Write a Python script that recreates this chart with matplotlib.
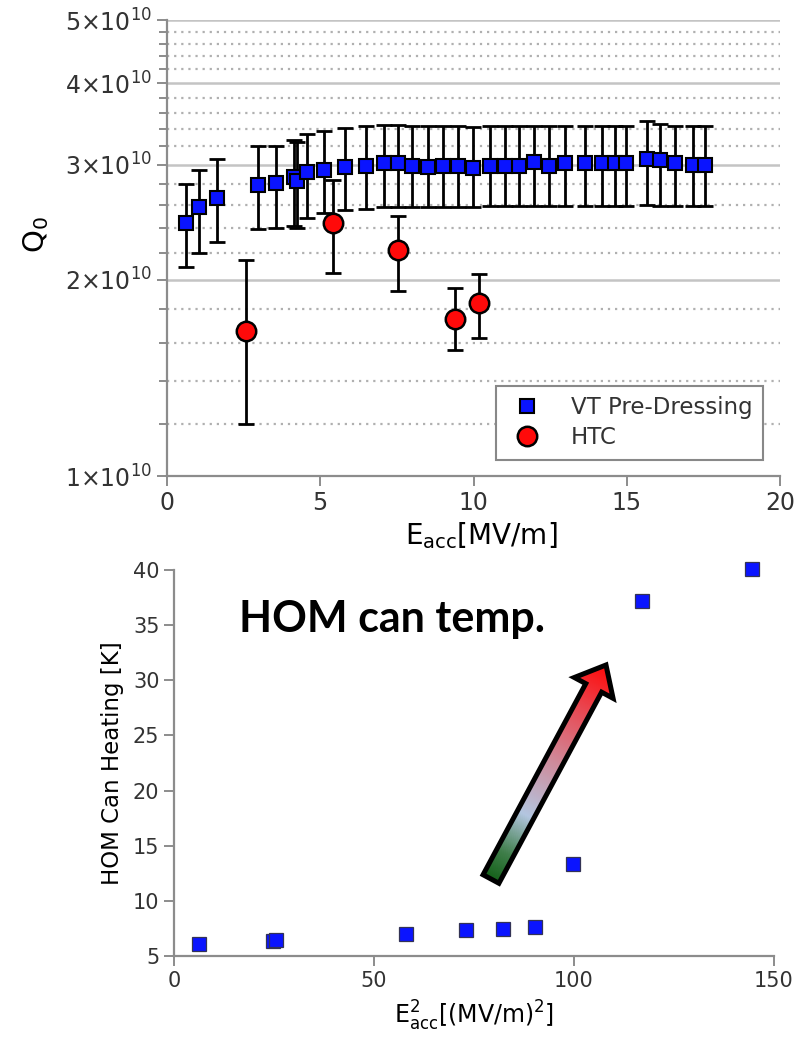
import matplotlib
matplotlib.use("Agg")
import matplotlib.pyplot as plt
import numpy as np
from matplotlib.colors import LinearSegmentedColormap
from matplotlib.lines import Line2D
from matplotlib.patches import Polygon
from matplotlib.ticker import FixedLocator, FixedFormatter, NullFormatter

# top panel: Q0 vs Eacc (Q in units of 1e10)
vt_e = [0.62, 1.04, 1.63, 2.97, 3.56, 4.14, 4.24, 4.57, 5.12, 5.81, 6.49,
        7.08, 7.54, 7.99, 8.52, 9.00, 9.49, 9.98, 10.54, 11.03, 11.48, 11.97,
        12.46, 12.99, 13.64, 14.19, 14.62, 14.98, 15.66, 16.08, 16.57, 17.16, 17.55]
vt_q = [2.44, 2.58, 2.67, 2.79, 2.81, 2.87, 2.83, 2.92, 2.94, 2.98, 2.99,
        3.015, 3.015, 2.99, 2.98, 2.99, 2.99, 2.97, 2.99, 2.99, 2.99, 3.025,
        2.99, 3.015, 3.02, 3.02, 3.02, 3.02, 3.06, 3.05, 3.02, 3.00, 3.00]
vt_lo = [2.09, 2.20, 2.28, 2.39, 2.40, 2.42, 2.40, 2.49, 2.53, 2.56, 2.57,
         2.58, 2.58, 2.58, 2.58, 2.58, 2.58, 2.58, 2.59, 2.59, 2.59, 2.59,
         2.59, 2.59, 2.59, 2.59, 2.59, 2.59, 2.60, 2.59, 2.59, 2.59, 2.59]
vt_hi = [2.80, 2.94, 3.06, 3.21, 3.20, 3.27, 3.25, 3.34, 3.38, 3.41, 3.44,
         3.45, 3.45, 3.44, 3.44, 3.44, 3.44, 3.43, 3.44, 3.44, 3.44, 3.44,
         3.44, 3.44, 3.44, 3.44, 3.44, 3.44, 3.50, 3.46, 3.44, 3.44, 3.44]

htc_e = [2.58, 5.42, 7.54, 9.40, 10.18]
htc_q = [1.67, 2.44, 2.22, 1.74, 1.84]
htc_lo = [1.20, 2.05, 1.92, 1.56, 1.63]
htc_hi = [2.14, 2.84, 2.50, 1.94, 2.04]

q_major = [1, 2, 3, 4, 5]
q_major_labels = ["1×10$^{10}$", "2×10$^{10}$", "3×10$^{10}$", "4×10$^{10}$", "5×10$^{10}$"]
q_minor = [1.2, 1.4, 1.6, 1.8, 2.2, 2.4, 2.6, 2.8, 3.2, 3.4, 3.6, 3.8,
           4.2, 4.4, 4.6, 4.8]
e_ticks = [0, 5, 10, 15, 20]

# bottom panel: HOM can heating vs Eacc^2
hom_e2 = [6.25, 24.8, 25.5, 58.0, 73.0, 82.2, 90.25, 99.75, 117.0, 144.5]
hom_t = [6.1, 6.4, 6.45, 7.0, 7.36, 7.45, 7.65, 13.3, 37.2, 40.1]
hom_xticks = [0, 50, 100, 150]
hom_yticks = [5, 10, 15, 20, 25, 30, 35, 40]

W, H = 797, 1048
TXT = "#333333"
AXC = "#8c8c8c"

plt.rcParams["font.family"] = "DejaVu Sans"
plt.rcParams["mathtext.default"] = "regular"
plt.rcParams["text.color"] = TXT
plt.rcParams["xtick.color"] = AXC
plt.rcParams["ytick.color"] = AXC
plt.rcParams["xtick.labelcolor"] = TXT
plt.rcParams["ytick.labelcolor"] = TXT

fig = plt.figure(figsize=(W / 100, H / 100), dpi=100)

# ---- top panel
ax = fig.add_axes([167 / W, 1 - 476 / H, 613 / W, 456 / H])
ax.set_yscale("log")
ax.set_xlim(0, 20)
ax.set_ylim(1e10, 5e10)

vq = np.array(vt_q) * 1e10
verr = [vq - np.array(vt_lo) * 1e10, np.array(vt_hi) * 1e10 - vq]
hq = np.array(htc_q) * 1e10
herr = [hq - np.array(htc_lo) * 1e10, np.array(htc_hi) * 1e10 - hq]

ax.errorbar(vt_e, vq, yerr=verr, fmt="none", ecolor="black", elinewidth=2,
            capsize=6, capthick=2, zorder=3)
ax.errorbar(htc_e, hq, yerr=herr, fmt="none", ecolor="black", elinewidth=2,
            capsize=6, capthick=2, zorder=3)
ax.plot(vt_e, vq, "s", color="#0a14ff", mec="black", mew=1.5, ms=10.5, zorder=4)
ax.plot(htc_e, hq, "o", color="#ff0a0a", mec="black", mew=1.8, ms=14, zorder=4)

ax.yaxis.set_major_locator(FixedLocator([v * 1e10 for v in q_major]))
ax.yaxis.set_major_formatter(FixedFormatter(q_major_labels))
ax.yaxis.set_minor_locator(FixedLocator([v * 1e10 for v in q_minor]))
ax.yaxis.set_minor_formatter(NullFormatter())
ax.set_xticks(e_ticks)
ax.set_axisbelow(True)
ax.yaxis.grid(True, which="major", color="#c4c4c4", lw=1.8, ls="-")
ax.yaxis.grid(True, which="minor", color="#b0b0b0", lw=1.6, ls=(0, (1, 2.2)))
for s in ["top", "right"]:
    ax.spines[s].set_visible(False)
for s in ["left", "bottom"]:
    ax.spines[s].set_color(AXC)
    ax.spines[s].set_linewidth(1.6)
ax.tick_params(axis="both", which="major", length=7, width=1.4, labelsize=17)
ax.tick_params(axis="y", which="minor", length=6, width=1.4)
ax.set_ylabel("Q$_0$", fontsize=21)
ax.yaxis.set_label_coords(-0.19, 0.53)
ax.set_xlabel("E$_{acc}$[MV/m]", fontsize=20)
ax.xaxis.set_label_coords(0.512, -0.098)

handles = [
    Line2D([], [], ls="none", marker="s", color="#0a14ff", mec="black", mew=1.5, ms=10.5),
    Line2D([], [], ls="none", marker="o", color="#ff0a0a", mec="black", mew=1.8, ms=14),
]
leg = ax.legend(handles, ["VT Pre-Dressing", "HTC"], loc="upper right",
                bbox_to_anchor=(0.972, 0.197), borderaxespad=0, fancybox=False,
                framealpha=1, edgecolor="#888888", fontsize=16.5, handletextpad=1.0,
                borderpad=0.45, labelspacing=0.3, handlelength=1.8)
leg.get_frame().set_linewidth(1.5)

# ---- bottom panel
bx = fig.add_axes([174 / W, 1 - 956 / H, 600 / W, 386 / H])
bx.plot(hom_e2, hom_t, "s", color="#0a14ff", mec="#333355", mew=0.9, ms=10,
        zorder=3, clip_on=False)
bx.set_xlim(0, 150)
bx.set_ylim(5, 40)
bx.set_xticks(hom_xticks)
bx.set_yticks(hom_yticks)
for s in ["top", "right"]:
    bx.spines[s].set_visible(False)
for s in ["left", "bottom"]:
    bx.spines[s].set_color(AXC)
    bx.spines[s].set_linewidth(1.6)
bx.tick_params(axis="both", which="major", length=7, width=1.4, labelsize=15)
bx.set_ylabel("HOM Can Heating [K]", fontsize=16.5)
bx.yaxis.set_label_coords(-0.083, 0.5)
bx.set_xlabel("E$_{acc}^{2}$[(MV/m)$^2$]", fontsize=17)
bx.xaxis.set_label_coords(0.5, -0.11)

fig.text(239 / W, 1 - 632 / H, "HOM can temp.", fontsize=31, fontweight="bold",
         family="Lato", color="black", va="baseline")

# ---- gradient arrow overlay (pixel coordinates)
arrow_tail = (491, 879)
arrow_tip = (606, 665)
shaft_half, head_half, head_len = 9, 22, 26

ov = fig.add_axes([0, 0, 1, 1], zorder=10)
ov.axis("off")
tail = np.array(arrow_tail, float)
tip = np.array(arrow_tip, float)
L = np.linalg.norm(tip - tail)
u = (tip - tail) / L
n = np.array([-u[1], u[0]])
base = tip - u * head_len
pts = [tail + n * shaft_half, base + n * shaft_half, base + n * head_half, tip,
       base - n * head_half, base - n * shaft_half, tail - n * shaft_half]
poly = Polygon(pts, closed=True, facecolor="none", edgecolor="black", lw=3.6,
               joinstyle="miter", zorder=3)
ov.add_patch(poly)

x0, x1 = int(min(p[0] for p in pts)) - 2, int(max(p[0] for p in pts)) + 2
y0, y1 = int(min(p[1] for p in pts)) - 2, int(max(p[1] for p in pts)) + 2
gx, gy = np.meshgrid(np.arange(x0, x1) + 0.5, np.arange(y0, y1) + 0.5)
t = ((gx - tail[0]) * u[0] + (gy - tail[1]) * u[1]) / L
cmap = LinearSegmentedColormap.from_list(
    "arrow", [(0, "#15621a"), (0.12, "#3f7e4a"), (0.3, "#b3c6e0"),
              (0.55, "#cf8a9a"), (0.8, "#ea4650"), (1, "#ff0a0a")])
im = ov.imshow(np.clip(t, 0, 1), cmap=cmap, vmin=0, vmax=1, extent=(x0, x1, y1, y0),
               origin="upper", aspect="auto", zorder=2, interpolation="bilinear")
im.set_clip_path(poly)
ov.set_xlim(0, W)
ov.set_ylim(H, 0)

fig.savefig("out.png", dpi=100)
